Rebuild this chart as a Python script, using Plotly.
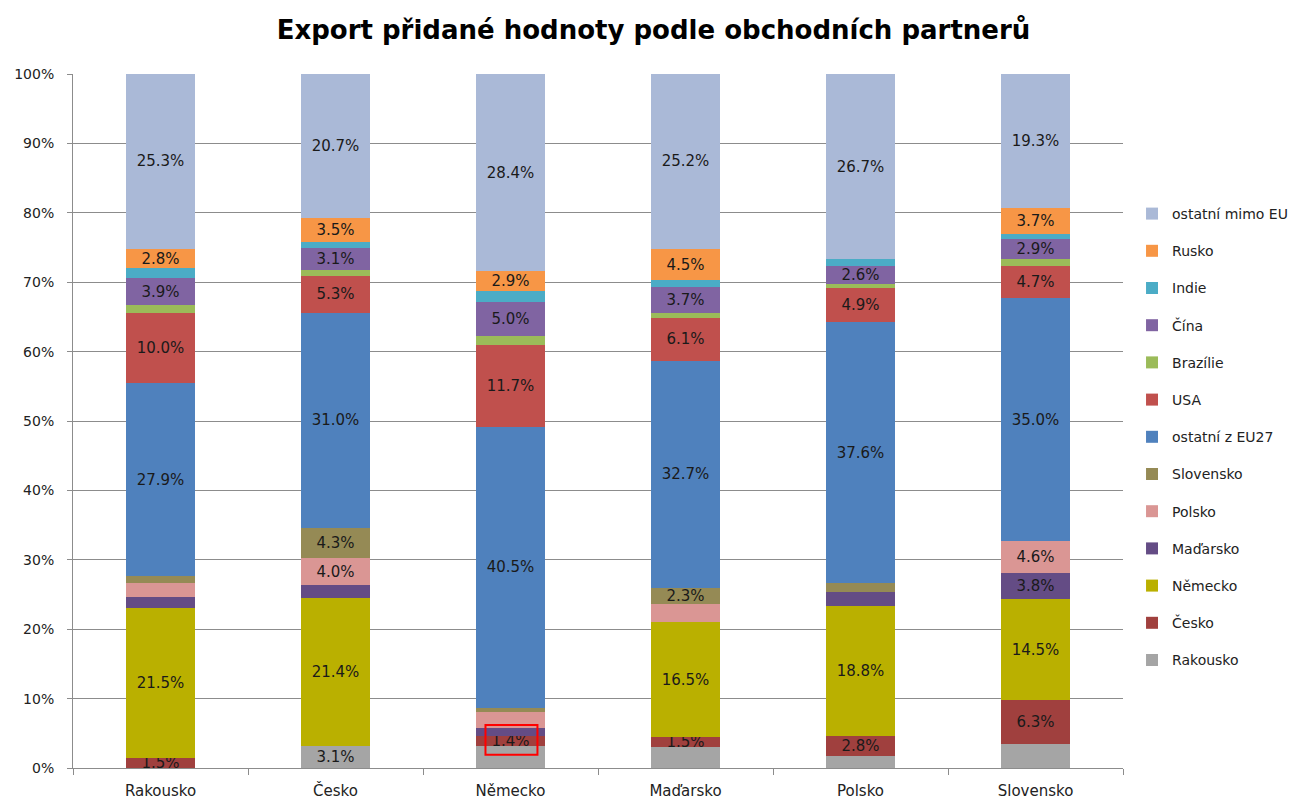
import plotly.graph_objects as go

# Categories (exporting countries)
countries = ["Rakousko", "Česko", "Německo", "Maďarsko", "Polsko", "Slovensko"]

# Partner shares (%) per exporting country, bottom to top of the stack
rakousko  = [0.0, 3.1, 3.2, 3.0, 1.8, 3.5]
cesko     = [1.5, 0.0, 1.4, 1.5, 2.8, 6.3]
nemecko   = [21.5, 21.4, 0.0, 16.5, 18.8, 14.5]
madarsko  = [1.7, 1.8, 1.1, 0.0, 1.9, 3.8]
polsko    = [1.9, 4.0, 2.3, 2.7, 0.0, 4.6]
slovensko = [1.0, 4.3, 0.7, 2.3, 1.3, 0.0]
eu27      = [27.9, 31.0, 40.5, 32.7, 37.6, 35.0]
usa       = [10.0, 5.3, 11.7, 6.1, 4.9, 4.7]
brazilie  = [1.2, 0.9, 1.3, 0.8, 0.6, 0.9]
cina      = [3.9, 3.1, 5.0, 3.7, 2.6, 2.9]
indie     = [1.4, 0.9, 1.5, 1.0, 1.0, 0.8]
rusko     = [2.8, 3.5, 2.9, 4.5, 0.0, 3.7]
mimo_eu   = [25.3, 20.7, 28.4, 25.2, 26.7, 19.3]

# Which values carry a data label in the original chart (1 = labelled)
lab_rakousko  = [0, 1, 0, 0, 0, 0]
lab_cesko     = [1, 0, 1, 1, 1, 1]
lab_nemecko   = [1, 1, 0, 1, 1, 1]
lab_madarsko  = [0, 0, 0, 0, 0, 1]
lab_polsko    = [0, 1, 0, 0, 0, 1]
lab_slovensko = [0, 1, 0, 1, 0, 0]
lab_eu27      = [1, 1, 1, 1, 1, 1]
lab_usa       = [1, 1, 1, 1, 1, 1]
lab_brazilie  = [0, 0, 0, 0, 0, 0]
lab_cina      = [1, 1, 1, 1, 1, 1]
lab_indie     = [0, 0, 0, 0, 0, 0]
lab_rusko     = [1, 1, 1, 1, 0, 1]
lab_mimo_eu   = [1, 1, 1, 1, 1, 1]

series = [
    ("Rakousko", rakousko, lab_rakousko, "#A5A5A5"),
    ("Česko", cesko, lab_cesko, "#A0403E"),
    ("Německo", nemecko, lab_nemecko, "#BAB000"),
    ("Maďarsko", madarsko, lab_madarsko, "#644C85"),
    ("Polsko", polsko, lab_polsko, "#DA9694"),
    ("Slovensko", slovensko, lab_slovensko, "#958A55"),
    ("ostatní z EU27", eu27, lab_eu27, "#4F81BD"),
    ("USA", usa, lab_usa, "#C0504D"),
    ("Brazílie", brazilie, lab_brazilie, "#9BBB59"),
    ("Čína", cina, lab_cina, "#8064A2"),
    ("Indie", indie, lab_indie, "#4BACC6"),
    ("Rusko", rusko, lab_rusko, "#F79646"),
    ("ostatní mimo EU", mimo_eu, lab_mimo_eu, "#AAB9D7"),
]

fig = go.Figure()
n = len(series)
for i, (name, vals, labs, color) in enumerate(series):
    texts = [f"{v:.1f}%" if l else "" for v, l in zip(vals, labs)]
    fig.add_trace(go.Bar(
        name=name,
        x=countries,
        y=vals,
        text=texts,
        textposition="inside",
        insidetextanchor="middle",
        constraintext="none",
        textangle=0,
        textfont=dict(family="DejaVu Sans", size=15, color="#1a1a1a"),
        marker=dict(color=color, line=dict(width=0)),
        legendgroup=name,
        legendrank=100 + (n - i),
        hovertemplate="%{x}: %{y:.1f}%<extra>" + name + "</extra>",
    ))

# red highlight box around the 1.4 % label
fig.add_shape(type="rect", xref="x", yref="y",
              x0=1.857, x1=2.154, y0=1.9, y1=6.2,
              line=dict(color="#FF0000", width=2), fillcolor="rgba(0,0,0,0)")

# page body has an 8px margin, so the figure is 8px smaller than the window
W, H = 1291, 794
fig.update_layout(
    width=W, height=H,
    barmode="stack",
    bargap=0.606,
    plot_bgcolor="white",
    paper_bgcolor="white",
    margin=dict(l=65, r=176, t=66, b=34, autoexpand=False),
    title=dict(text="<b>Export přidané hodnoty podle obchodních partnerů</b>",
               x=0.5, xanchor="center", y=1 - 22 / H, yanchor="middle",
               font=dict(family="DejaVu Sans", size=26, color="#000000")),
    font=dict(family="DejaVu Sans", color="#222222"),
    legend=dict(traceorder="grouped", tracegroupgap=16,
                x=1.0086, xanchor="left", y=(760 - 190) / 694, yanchor="top",
                itemwidth=30, font=dict(family="DejaVu Sans", size=14, color="#222222"),
                bgcolor="rgba(0,0,0,0)"),
    showlegend=True,
)
fig.update_xaxes(
    showline=True, linecolor="#8c8c8c", linewidth=1,
    ticks="outside", tickson="boundaries", ticklen=6, tickcolor="#8c8c8c",
    tickfont=dict(family="DejaVu Sans", size=15, color="#222222"),
    ticklabelstandoff=9, showgrid=False, automargin=False,
)
fig.update_yaxes(
    range=[0, 100], tickvals=[0, 10, 20, 30, 40, 50, 60, 70, 80, 90, 100],
    ticktext=["0%", "10%", "20%", "30%", "40%", "50%", "60%", "70%", "80%", "90%", "100%"],
    showline=True, linecolor="#8c8c8c", linewidth=1,
    ticks="outside", ticklen=5, tickcolor="#8c8c8c",
    showgrid=True, gridcolor="#8c8c8c", gridwidth=1,
    tickfont=dict(family="DejaVu Sans", size=14, color="#222222"),
    ticklabelstandoff=10, zeroline=False, automargin=False,
)

fig.write_html("out.html")
